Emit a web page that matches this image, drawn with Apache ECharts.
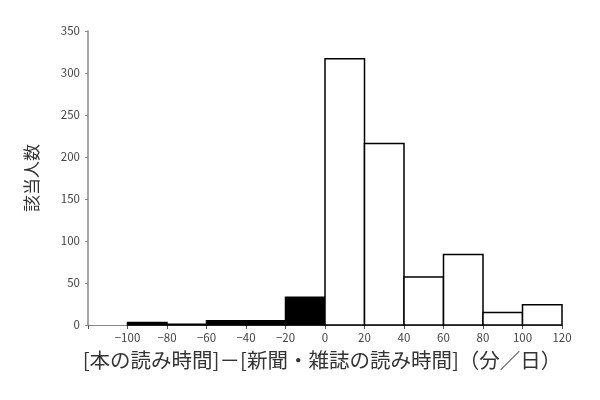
<!DOCTYPE html>
<html><head><meta charset="utf-8">
<script src="https://cdn.jsdelivr.net/npm/echarts@6/dist/echarts.min.js"></script>
<style>html,body{margin:0;padding:0;background:#fff}#c{width:600px;height:400px}</style>
</head><body><div id="c"></div>
<script>
var binStarts = [-100,-80,-60,-40,-20,0,20,40,60,80,100];
var counts = [3,1,5,5,33,317,216,57,84,15,24];
var binWidth = 20;
var xTitle = '[本の読み時間]－[新聞・雑誌の読み時間]（分／日）';
var yTitle = '該当人数';

var data = binStarts.map(function(s,i){return [s, s+binWidth, counts[i]];});
var chart = echarts.init(document.getElementById('c'));
var font = '"Noto Sans CJK JP", "DejaVu Sans", sans-serif';
chart.setOption({
  animation:false,
  grid:{left:88,right:38,top:31,bottom:75},
  xAxis:{type:'value',min:-120,max:120,interval:20,
    axisLine:{lineStyle:{color:'#888',width:1.2}},
    axisTick:{show:true,inside:false,length:4,lineStyle:{color:'#555'}},
    splitLine:{show:false},
    axisLabel:{color:'#444',fontSize:11.5,fontFamily:font,margin:7,
      formatter:function(v){return v===-120?'':(v<0?'−'+Math.abs(v):String(v));}},
    name:xTitle,nameLocation:'middle',nameGap:25,
    nameTextStyle:{color:'#333',fontSize:20.5,fontFamily:font,padding:[0,0,0,-6]}
  },
  yAxis:{type:'value',min:0,max:350,interval:50,
    axisLine:{show:true,onZero:false,lineStyle:{color:'#888',width:1.5}},
    axisTick:{show:true,length:3,lineStyle:{color:'#888'}},
    splitLine:{show:false},
    axisLabel:{color:'#444',fontSize:11.5,fontFamily:font,margin:8},
    name:yTitle,nameLocation:'middle',nameGap:48,nameRotate:90,
    nameTextStyle:{color:'#333',fontSize:17,fontFamily:font}
  },
  series:[{type:'custom',data:data,
    encode:{x:[0,1],y:2},
    renderItem:function(params,api){
      var x0=api.value(0),x1=api.value(1),y=api.value(2);
      var p0=api.coord([x0,y]),p1=api.coord([x1,0]);
      var neg = x0<0;
      return {type:'rect',shape:{x:p0[0],y:p0[1],width:p1[0]-p0[0],height:p1[1]-p0[1]},
        style:{fill:neg?'#000':'#fff',stroke:'#000',lineWidth:1.5}};
    }
  }]
});
</script></body></html>
